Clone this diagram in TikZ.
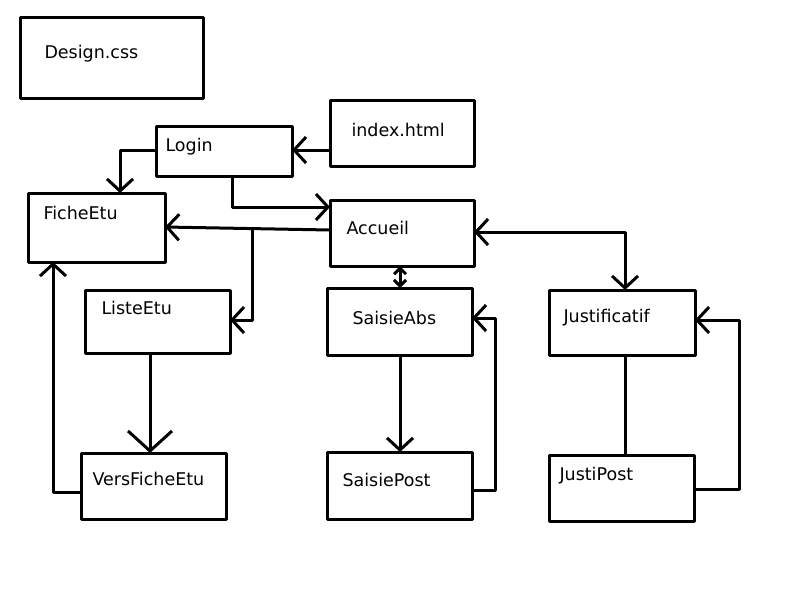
\documentclass[tikz,border=0pt]{standalone}
\usepackage{fontspec}
\setmainfont{DejaVu Sans}
\usetikzlibrary{arrows.meta}

\tikzset{
  box/.style={draw, line width=3pt, rectangle, inner sep=0pt, outer sep=0pt},
  lbl/.style={anchor=base west, inner sep=0pt, font=\fontsize{17.5}{20}\selectfont},
  arr/.style={-{Straight Barb[length=12pt,width=26pt]}},
  bigarr/.style={-{Straight Barb[length=20pt,width=44pt]}},
  twoarr/.style={{Straight Barb[length=12pt,width=26pt]}-{Straight Barb[length=12pt,width=26pt]}},
  smallarr/.style={{Straight Barb[length=6pt,width=12pt]}-{Straight Barb[length=6pt,width=12pt]}}
}

\begin{document}
\begin{tikzpicture}[x=1pt, y=-1pt, line width=3pt, line join=round]
\useasboundingbox [fill=white] (0,0) rectangle (800,600);

% boxes
\node [box, minimum width=183pt, minimum height=81pt] (design) at (111.5, 57.5) {}; % Design.css
\node [box, minimum width=136pt, minimum height=50pt] (login) at (224,151) {}; % Login
\node [box, minimum width=144pt, minimum height=66pt] (index) at (402,133) {}; % index.html
\node [box, minimum width=137pt, minimum height=69pt] (fiche) at (96.5,227.5) {}; % FicheEtu
\node [box, minimum width=144pt, minimum height=66pt] (accueil) at (402,233) {}; % Accueil
\node [box, minimum width=145pt, minimum height=63pt] (liste) at (157.5,321.5) {}; % ListeEtu
\node [box, minimum width=145pt, minimum height=67pt] (saisieabs) at (399.5,321.5) {}; % SaisieAbs
\node [box, minimum width=146pt, minimum height=65pt] (justif) at (622,322.5) {}; % Justificatif
\node [box, minimum width=145pt, minimum height=66pt] (vers) at (153.5,486) {}; % VersFicheEtu
\node [box, minimum width=145pt, minimum height=67pt] (saisiepost) at (399.5,485.5) {}; % SaisiePost
\node [box, minimum width=145pt, minimum height=66pt] (justipost) at (621.5,488) {}; % JustiPost

% texts
\node [lbl] (design-t) at (43,58.5) {Design.css};
\node [lbl] (login-t) at (164,151.5) {Login};
\node [lbl] (index-t) at (350,136.5) {index.html};
\node [lbl] (fiche-t) at (42,219.5) {FicheEtu};
\node [lbl] (accueil-t) at (345,234.5) {Accueil};
\node [lbl] (liste-t) at (100,314.5) {ListeEtu};
\node [lbl] (saisieabs-t) at (351,324.5) {SaisieAbs};
\node [lbl] (justif-t) at (562,322.5) {Justificatif};
\node [lbl] (vers-t) at (91,485.5) {VersFicheEtu};
\node [lbl] (saisiepost-t) at (341,486.5) {SaisiePost};
\node [lbl] (justipost-t) at (558,480.5) {JustiPost};

% connectors
\draw [arr] (index.west |- 0,150) -- (login.east |- 0,150);
\draw [arr] (login.west |- 0,150) -| (fiche.north -| 120,0);
\draw [arr] (login.south -| 232,0) |- (accueil.west |- 0,207);
\draw [arr] (accueil.west |- 0,230) -- (fiche.east |- 0,227);
\coordinate (branch) at (252,228.5);
\draw [arr] (branch) |- (liste.east |- 0,320);
\draw [smallarr] (accueil.south -| 400,0) -- (saisieabs.north -| 400,0);
\draw [twoarr] (accueil.east |- 0,232) -| (justif.north -| 625,0);
\draw [bigarr] (liste.south -| 150,0) -- (vers.north -| 150,0);
\draw [arr] (vers.west |- 0,492) -| (fiche.south -| 53,0);
\draw [arr] (saisieabs.south -| 400,0) -- (saisiepost.north -| 400,0);
\draw [arr] (saisiepost.east |- 0,490) -| (495,0 |- 0,318) -- (saisieabs.east |- 0,318);
\draw (justif.south -| 625,0) -- (justipost.north -| 625,0);
\draw [arr] (justipost.east |- 0,489) -| (739,0 |- 0,320) -- (justif.east |- 0,320);

\end{tikzpicture}
\end{document}
